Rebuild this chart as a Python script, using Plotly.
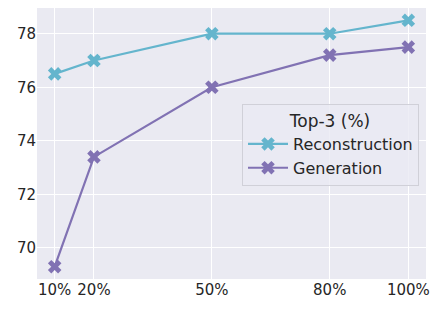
import plotly.graph_objects as go

x_vals = [10, 20, 50, 80, 100]
x_labels = ["10%", "20%", "50%", "80%", "100%"]
reconstruction = [76.5, 77.0, 78.0, 78.0, 78.5]
generation = [69.3, 73.4, 76.0, 77.2, 77.5]
y_ticks = [70, 72, 74, 76, 78]

FONT = "DejaVu Sans"
fig = go.Figure()
for name, vals, color in [("Reconstruction", reconstruction, "#64B5CD"),
                          ("Generation", generation, "#8172B3")]:
    fig.add_trace(go.Scatter(
        x=x_vals, y=vals, name=name, mode="lines+markers",
        line=dict(color=color, width=2.2),
        marker=dict(symbol="x", size=12, color=color, line=dict(width=0)),
    ))

fig.update_layout(
    width=438, height=309,
    margin=dict(l=37, r=12, t=8, b=30, autoexpand=False),
    paper_bgcolor="white", plot_bgcolor="#EAEAF2",
    font=dict(family=FONT, size=15, color="#262626"),
    showlegend=True,
    legend=dict(
        title=dict(text="Top-3 (%)", font=dict(size=17), side="top center"),
        x=0.527, y=0.646, xanchor="left", yanchor="top",
        bgcolor="rgba(234,234,242,0.8)", bordercolor="#D0D0D8", borderwidth=1,
        font=dict(size=16), itemwidth=40, tracegroupgap=0,
    ),
)
fig.update_xaxes(range=[5.5, 104.5], tickvals=x_vals, ticktext=x_labels,
                 showgrid=True, gridcolor="white", gridwidth=1, zeroline=False,
                 showline=False, ticks="", tickfont=dict(size=15), automargin=False)
fig.update_yaxes(range=[68.84, 78.96], tickvals=y_ticks,
                 showgrid=True, gridcolor="white", gridwidth=1, zeroline=False,
                 showline=False, ticks="", tickfont=dict(size=15), automargin=False)

fig.write_html("out.html", config={"displayModeBar": False},
               post_script="document.body.style.margin='0';document.body.style.overflow='hidden';")
